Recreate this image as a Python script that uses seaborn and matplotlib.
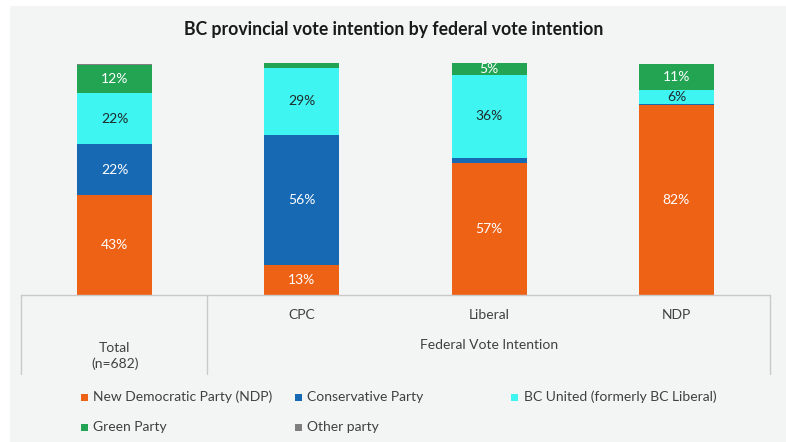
import matplotlib
matplotlib.use("Agg")
import matplotlib.pyplot as plt
import seaborn as sns
import numpy as np
import pandas as pd
from matplotlib.patches import Rectangle
from matplotlib.lines import Line2D

# ---- data ----
categories = ["Total", "CPC", "Liberal", "NDP"]
parties = ["New Democratic Party (NDP)", "Conservative Party",
           "BC United (formerly BC Liberal)", "Green Party", "Other party"]
ndp = [43, 13, 57, 82]
conservative = [22, 56, 2, 0.5]
bc_united = [22, 29, 36, 6]
green = [12, 2, 5, 11]
other = [0.5, 0, 0, 0]
title = "BC provincial vote intention by federal vote intention"
group_label = "Federal Vote Intention"
total_label = "Total\n(n=682)"

colors = ["#ee6216", "#1769b4", "#3ff5f1", "#22a453", "#7f7f7f"]
label_colors = ["white", "white", "#1e2a2a", "white", "white"]

sns.set_style("white")
plt.rcParams["font.family"] = ["Lato", "DejaVu Sans"]

W, H = 786, 442
fig = plt.figure(figsize=(W / 100, H / 100), dpi=100)
fig.patch.set_facecolor("white")


def fx(x):
    return x / W


def fy(y):
    return 1 - y / H


fig.add_artist(Rectangle((fx(10), 0), 1 - fx(10), fy(6), transform=fig.transFigure,
                         facecolor="#f3f4f4", edgecolor="none", zorder=0))

ax = fig.add_axes([fx(21), fy(295), fx(770) - fx(21), fy(63) - fy(295)])
ax.patch.set_alpha(0)

series = [ndp, conservative, bc_united, green, other]
df = pd.DataFrame({p: s for p, s in zip(parties, series)}, index=categories)
cum = df.cumsum(axis=1)

# draw cumulative totals from top layer to bottom so they stack visually
for k in range(len(parties) - 1, -1, -1):
    d = pd.DataFrame({"cat": categories, "val": cum.iloc[:, k].values})
    sns.barplot(data=d, x="cat", y="val", order=categories, color=colors[k],
                saturation=1, width=0.4, linewidth=0, edgecolor="none", ax=ax)

ax.set_xlim(-0.5, 3.5)
ax.set_ylim(0, 100)
ax.axis("off")

for i, cat in enumerate(categories):
    bottom = 0
    for k, p in enumerate(parties):
        v = df.loc[cat, p]
        if v >= 5:
            ax.text(i, bottom + v / 2, f"{v:g}%", ha="center", va="center",
                    color=label_colors[k], fontsize=10)
        bottom += v

# category table lines
line_col = "#c9c9c9"
for (x0, y0, x1, y1) in [(21, 295, 770, 295), (21, 295, 21, 374),
                         (207, 295, 207, 374), (770, 295, 770, 374)]:
    fig.add_artist(Line2D([fx(x0), fx(x1)], [fy(y0), fy(y1)],
                          transform=fig.transFigure, color=line_col, lw=1))

txt_col = "#404040"
for i, cat in enumerate(categories[1:], start=1):
    xd = ax.transData.transform((i, 0))[0]
    fig.text(xd / fig.bbox.width, fy(315), cat, ha="center", va="center",
             fontsize=10, color=txt_col)
x0d = ax.transData.transform((0, 0))[0]
fig.text(x0d / fig.bbox.width, fy(356), total_label, ha="center", va="center",
         fontsize=10, color=txt_col, linespacing=1.35)
xg = (ax.transData.transform((1, 0))[0] + ax.transData.transform((3, 0))[0]) / 2
fig.text(xg / fig.bbox.width, fy(345), group_label, ha="center", va="center",
         fontsize=10, color=txt_col)

fig.text(fx(394), fy(30), title, ha="center", va="center", fontsize=12.7,
         fontweight="bold", color="#1a1a1a")

# legend
leg_pos = [(84, 397), (298, 397), (515, 397), (84, 427), (298, 427)]
for (lx, ly), p, c in zip(leg_pos, parties, colors):
    fig.add_artist(Rectangle((fx(lx - 3.5), fy(ly + 3.5)), 7 / W, 7 / H,
                             transform=fig.transFigure, facecolor=c, edgecolor="none"))
    fig.text(fx(lx + 9), fy(ly), p, ha="left", va="center", fontsize=10, color=txt_col)

fig.savefig("out.png", dpi=100, facecolor=fig.get_facecolor())
